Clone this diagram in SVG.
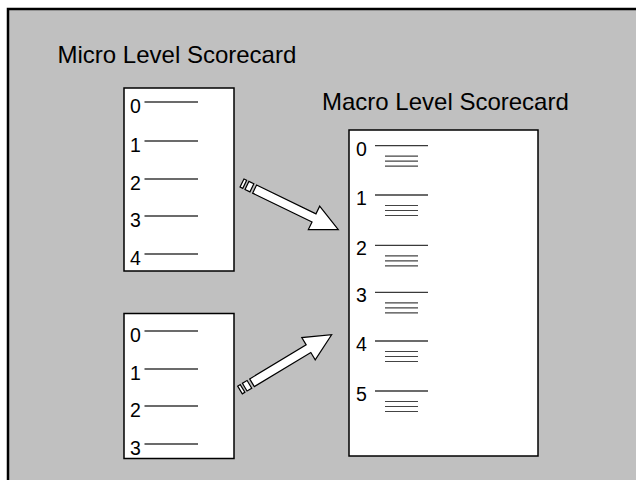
<svg xmlns="http://www.w3.org/2000/svg" width="636" height="480" viewBox="0 0 636 480">
  <style>
    .box { fill: #ffffff; stroke: #000000; stroke-width: 1.5; }
    .title { font-family: "Liberation Sans", Arial, sans-serif; font-size: 24px; fill: #000000; }
    .num { font-family: "Liberation Sans", Arial, sans-serif; font-size: 19.5px; fill: #000000; }
    .ln { stroke: #3a3a3a; stroke-width: 1.3; fill: none; }
    .ln2 { stroke: #444444; stroke-width: 1.2; fill: none; }
    .arrow { fill: #ffffff; stroke: #000000; stroke-width: 1.2; stroke-linejoin: miter; }
  </style>
  <defs>
    <g id="striped-arrow">
      <polygon points="0,-4.5 3,-4.5 3,4.5 0,4.5"/>
      <polygon points="5.5,-4.5 11,-4.5 11,4.5 5.5,4.5"/>
      <polygon points="14,-4.5 80,-4.5 80,-13 107,0 80,13 80,4.5 14,4.5"/>
    </g>
    <g id="triple">
      <line x1="0" y1="0" x2="33" y2="0"/>
      <line x1="0" y1="5" x2="33" y2="5"/>
      <line x1="0" y1="10" x2="33" y2="10"/>
    </g>
  </defs>
  <rect x="0" y="0" width="636" height="480" fill="#ffffff"/>
  <rect x="8" y="9" width="700" height="500" fill="#c0c0c0" stroke="#000000" stroke-width="2.5"/>

  <g id="title-micro">
    <text class="title" x="57.5" y="63">Micro Level Scorecard</text>
  </g>
  <g id="title-macro">
    <text class="title" x="322" y="110">Macro Level Scorecard</text>
  </g>

  <g id="micro-1">
    <rect class="box" x="124" y="88" width="110" height="183"/>
    <g class="ln">
      <line x1="144.5" y1="102" x2="198" y2="102"/>
      <line x1="144.5" y1="141" x2="198" y2="141"/>
      <line x1="144.5" y1="179" x2="198" y2="179"/>
      <line x1="144.5" y1="216" x2="198" y2="216"/>
      <line x1="144.5" y1="254" x2="198" y2="254"/>
    </g>
    <text class="num" x="130" y="113">0</text>
    <text class="num" x="130" y="152">1</text>
    <text class="num" x="130" y="190">2</text>
    <text class="num" x="130" y="227">3</text>
    <text class="num" x="130" y="265">4</text>
  </g>

  <g id="micro-2">
    <rect class="box" x="124" y="313.5" width="110" height="145"/>
    <g class="ln">
      <line x1="144.5" y1="331" x2="198" y2="331"/>
      <line x1="144.5" y1="369" x2="198" y2="369"/>
      <line x1="144.5" y1="406" x2="198" y2="406"/>
      <line x1="144.5" y1="444" x2="198" y2="444"/>
    </g>
    <text class="num" x="130" y="342">0</text>
    <text class="num" x="130" y="380">1</text>
    <text class="num" x="130" y="417">2</text>
    <text class="num" x="130" y="455">3</text>
  </g>

  <g id="macro">
    <rect class="box" x="349" y="130" width="189" height="326"/>
    <g class="ln">
      <line x1="375" y1="145.7" x2="428" y2="145.7"/>
      <line x1="375" y1="195" x2="428" y2="195"/>
      <line x1="375" y1="245.3" x2="428" y2="245.3"/>
      <line x1="375" y1="292.3" x2="428" y2="292.3"/>
      <line x1="375" y1="341" x2="428" y2="341"/>
      <line x1="375" y1="391" x2="428" y2="391"/>
    </g>
    <g class="ln2">
      <use href="#triple" x="385" y="156.2"/>
      <use href="#triple" x="385" y="205.5"/>
      <use href="#triple" x="385" y="255.8"/>
      <use href="#triple" x="385" y="302.8"/>
      <use href="#triple" x="385" y="351.5"/>
      <use href="#triple" x="385" y="401.5"/>
    </g>
    <text class="num" x="356" y="155.5">0</text>
    <text class="num" x="356" y="205">1</text>
    <text class="num" x="356" y="255">2</text>
    <text class="num" x="356" y="302">3</text>
    <text class="num" x="356" y="350.5">4</text>
    <text class="num" x="356" y="400.5">5</text>
  </g>

  <g id="connectors">
    <use class="arrow" href="#striped-arrow" transform="translate(242,183) rotate(25.85)"/>
    <use class="arrow" href="#striped-arrow" transform="translate(240,390) rotate(-31.1)"/>
  </g>
</svg>
